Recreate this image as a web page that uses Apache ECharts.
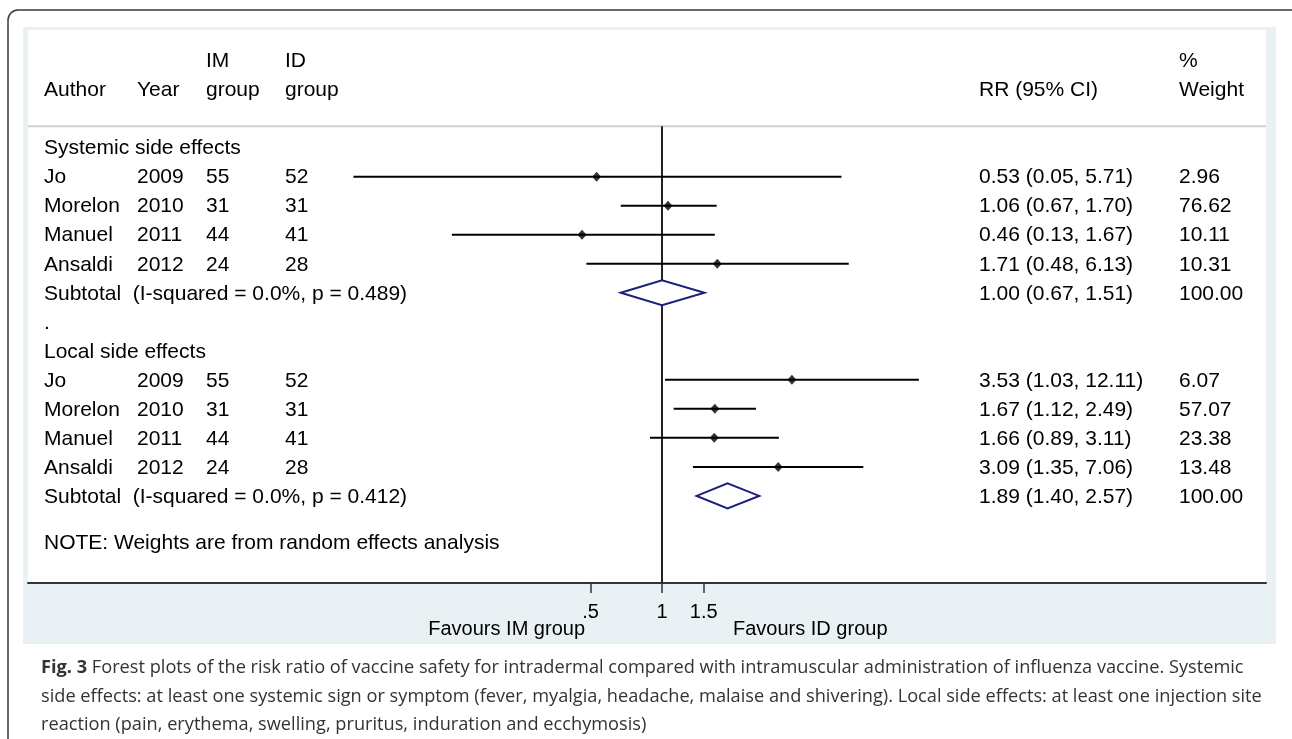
<!DOCTYPE html>
<html>
<head>
<meta charset="utf-8">
<script src="https://cdn.jsdelivr.net/npm/echarts@6/dist/echarts.min.js"></script>
<style>
html,body{margin:0;padding:0;background:#fff;}
#c{width:1292px;height:739px;}
</style>
</head>
<body>
<div id="c"></div>
<script>
// ---- data ----
var authors = ['Jo', 'Morelon', 'Manuel', 'Ansaldi'];
var years = [2009, 2010, 2011, 2012];
var imGroup = [55, 31, 44, 24];
var idGroup = [52, 31, 41, 28];

var sysRR = [0.53, 1.06, 0.46, 1.71];
var sysLo = [0.05, 0.67, 0.13, 0.48];
var sysHi = [5.71, 1.70, 1.67, 6.13];
var sysW  = ['2.96', '76.62', '10.11', '10.31'];
var sysSub = [1.00, 0.67, 1.51];
var sysHet = 'I-squared = 0.0%, p = 0.489';

var locRR = [3.53, 1.67, 1.66, 3.09];
var locLo = [1.03, 1.12, 0.89, 1.35];
var locHi = [12.11, 2.49, 3.11, 7.06];
var locW  = ['6.07', '57.07', '23.38', '13.48'];
var locSub = [1.89, 1.40, 2.57];
var locHet = 'I-squared = 0.0%, p = 0.412';

var tickValues = [0.5, 1, 1.5];
var tickLabels = ['.5', '1', '1.5'];

// ---- layout ----
var FONT = '21px "Liberation Sans", Arial, sans-serif';
var CAPFONT = '18.2px "Open Sans", sans-serif';
var colX = {author: 44, year: 137, im: 206, id: 285, rr: 979, w: 1179};
var gridL = 28, gridR = 1266, gridT = 31.5, gridB = 583;
var xOne = 662, pxPerLn = 103;
var xMin = Math.exp((gridL - xOne) / pxPerLn);
var xMax = Math.exp((gridR - xOne) / pxPerLn);
var textDy = 1;

function fmt(v){ return v.toFixed(2); }
function ciText(r, l, h){ return fmt(r) + ' (' + fmt(l) + ', ' + fmt(h) + ')'; }

var sysStart = 0, locStart = 7;
var ciData = [], ptData = [], dmData = [], texts = [];
function addSection(start, title, rr, lo, hi, w, sub, het){
  texts.push({x: colX.author, row: start, t: title});
  for (var i = 0; i < authors.length; i++) {
    var r = start + 1 + i;
    texts.push({x: colX.author, row: r, t: authors[i]});
    texts.push({x: colX.year, row: r, t: String(years[i])});
    texts.push({x: colX.im, row: r, t: String(imGroup[i])});
    texts.push({x: colX.id, row: r, t: String(idGroup[i])});
    texts.push({x: colX.rr, row: r, t: ciText(rr[i], lo[i], hi[i])});
    texts.push({x: colX.w, row: r, t: w[i]});
    ciData.push([lo[i], hi[i], r]);
    ptData.push([rr[i], r]);
  }
  var sr = start + 5;
  texts.push({x: colX.author, row: sr, t: 'Subtotal  (' + het + ')'});
  texts.push({x: colX.rr, row: sr, t: ciText(sub[0], sub[1], sub[2])});
  texts.push({x: colX.w, row: sr, t: '100.00'});
  dmData.push([sub[0], sub[1], sub[2], sr]);
}
texts.push({x: colX.im, row: -3, t: 'IM'});
texts.push({x: colX.id, row: -3, t: 'ID'});
texts.push({x: colX.w, row: -3, t: '%'});
texts.push({x: colX.author, row: -2, t: 'Author'});
texts.push({x: colX.year, row: -2, t: 'Year'});
texts.push({x: colX.im, row: -2, t: 'group'});
texts.push({x: colX.id, row: -2, t: 'group'});
texts.push({x: colX.rr, row: -2, t: 'RR (95% CI)'});
texts.push({x: colX.w, row: -2, t: 'Weight'});
addSection(sysStart, 'Systemic side effects', sysRR, sysLo, sysHi, sysW, sysSub, sysHet);
texts.push({x: colX.author, row: 6, t: '.'});
addSection(locStart, 'Local side effects', locRR, locLo, locHi, locW, locSub, locHet);
texts.push({x: colX.author, row: 13.58, t: 'NOTE: Weights are from random effects analysis'});

var sepRow = -0.74;

var chart = echarts.init(document.getElementById('c'), null, {renderer: 'canvas'});
chart.setOption({
  animation: false,
  backgroundColor: '#ffffff',
  grid: {left: gridL, right: 1292 - gridR, top: gridT, bottom: 739 - gridB, containLabel: false},
  xAxis: {
    type: 'log', logBase: 10, min: xMin, max: xMax,
    position: 'bottom',
    axisLine: {show: true, onZero: false, lineStyle: {color: '#333', width: 2}},
    axisTick: {show: true, customValues: tickValues, length: 10, inside: false, lineStyle: {color: '#333', width: 1.5}},
    axisLabel: {show: true, customValues: tickValues, margin: 19, color: '#000',
      fontFamily: '"Liberation Sans", Arial, sans-serif', fontSize: 20,
      formatter: function(v){ var i = tickValues.indexOf(Math.round(v*1000)/1000); return i >= 0 ? tickLabels[i] : ''; }},
    splitLine: {show: false},
    minorTick: {show: false}
  },
  yAxis: {type: 'value', inverse: true, min: -4, max: 15, show: false},
  graphic: [
    {type: 'rect', z: -20, shape: {x: 8, y: 10, width: 1300, height: 760, r: 10},
      style: {fill: '#fff', stroke: '#3a3a3a', lineWidth: 1.5}},
    {type: 'rect', z: -19, shape: {x: 23, y: 27, width: 1253, height: 617},
      style: {fill: '#eaf1f4'}},
    {type: 'rect', z: -18, shape: {x: 28, y: 30, width: gridR - 28, height: gridB - 30},
      style: {fill: '#ffffff'}},
    {type: 'text', z: 5, style: {x: 585, y: 629, text: 'Favours IM group', font: '20px "Liberation Sans", Arial, sans-serif',
      fill: '#000', textAlign: 'right', textVerticalAlign: 'middle'}},
    {type: 'text', z: 5, style: {x: 733, y: 629, text: 'Favours ID group', font: '20px "Liberation Sans", Arial, sans-serif',
      fill: '#000', textAlign: 'left', textVerticalAlign: 'middle'}},
    {type: 'text', z: 5, style: {x: 41, y: 668, textVerticalAlign: 'middle',
      text: '{b|Fig. 3} Forest plots of the risk ratio of vaccine safety for intradermal compared with intramuscular administration of influenza vaccine. Systemic',
      font: CAPFONT, fill: '#333',
      rich: {b: {fontWeight: 'bold', fontSize: 18.2, fontFamily: '"Open Sans", sans-serif', fill: '#333'}}}},
    {type: 'text', z: 5, style: {x: 41, y: 697, textVerticalAlign: 'middle',
      text: 'side effects: at least one systemic sign or symptom (fever, myalgia, headache, malaise and shivering). Local side effects: at least one injection site',
      font: CAPFONT, fill: '#333'}},
    {type: 'text', z: 5, style: {x: 41, y: 725, textVerticalAlign: 'middle',
      text: 'reaction (pain, erythema, swelling, pruritus, induration and ecchymosis)',
      font: CAPFONT, fill: '#333'}}
  ],
  series: [
    { // header separator
      type: 'custom', clip: false, silent: true, z: 1,
      data: [[1, sepRow]],
      renderItem: function(params, api){
        var y = api.coord([1, api.value(1)])[1];
        return {type: 'line', shape: {x1: gridL, y1: y, x2: gridR, y2: y},
          style: {stroke: '#d2d2d2', lineWidth: 2}};
      }
    },
    { // null line at 1
      type: 'custom', clip: false, silent: true, z: 2,
      data: [[1, sepRow, 15]],
      renderItem: function(params, api){
        var a = api.coord([api.value(0), api.value(1)]);
        var b = api.coord([api.value(0), api.value(2)]);
        return {type: 'line', shape: {x1: a[0], y1: a[1], x2: b[0], y2: b[1]},
          style: {stroke: '#222', lineWidth: 2}};
      }
    },
    { // CI lines
      type: 'custom', silent: true, z: 3,
      encode: {x: [0, 1], y: 2},
      data: ciData,
      renderItem: function(params, api){
        var a = api.coord([api.value(0), api.value(2)]);
        var b = api.coord([api.value(1), api.value(2)]);
        return {type: 'line', shape: {x1: a[0], y1: a[1], x2: b[0], y2: b[1]},
          style: {stroke: '#000', lineWidth: 2}};
      }
    },
    { // point estimates
      type: 'scatter', silent: true, z: 4,
      symbol: 'diamond', symbolSize: [9, 10],
      itemStyle: {color: '#000'},
      data: ptData
    },
    { // pooled diamonds
      type: 'custom', silent: true, z: 4,
      encode: {x: [0, 1, 2], y: 3},
      data: dmData,
      renderItem: function(params, api){
        var r = api.value(3);
        var c = api.coord([api.value(0), r]);
        var l = api.coord([api.value(1), r]);
        var h = api.coord([api.value(2), r]);
        var top = api.coord([api.value(0), r - 0.43]);
        var bot = api.coord([api.value(0), r + 0.43]);
        return {type: 'polygon', shape: {points: [[l[0], c[1]], [top[0], top[1]], [h[0], c[1]], [bot[0], bot[1]]]},
          style: {fill: '#fff', stroke: '#1b1f7d', lineWidth: 2}};
      }
    },
    { // table text
      type: 'custom', clip: false, silent: true, z: 5,
      encode: {x: 0, y: 1},
      data: texts.map(function(t){ return [1, t.row]; }),
      renderItem: function(params, api){
        var t = texts[params.dataIndex];
        var y = api.coord([1, api.value(1)])[1] + textDy;
        return {type: 'text', style: {x: t.x, y: y, text: t.t, font: FONT, fill: '#000',
          textAlign: 'left', textVerticalAlign: 'middle'}};
      }
    }
  ]
});
</script>
</body>
</html>
